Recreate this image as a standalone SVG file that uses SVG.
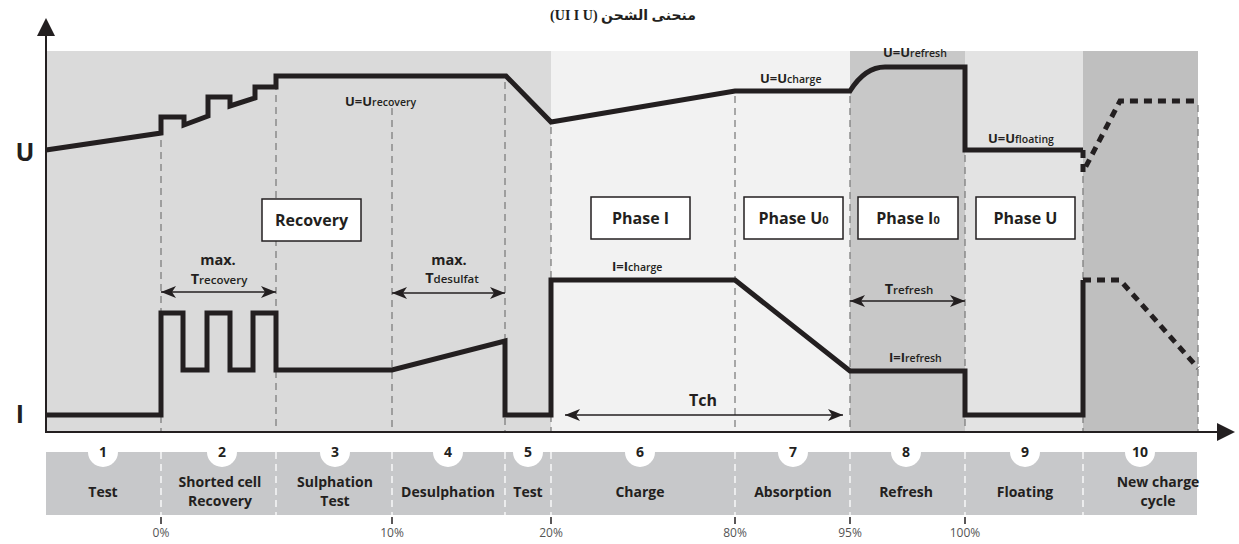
<svg xmlns="http://www.w3.org/2000/svg" width="1239" height="544" viewBox="0 0 1239 544">
<style>
text { font-family: "Open Sans", "Liberation Sans", sans-serif; fill: #231f20; }
.curve { fill: none; stroke: #231f20; stroke-width: 5; stroke-linejoin: miter; }
.dot { fill: none; stroke: #231f20; stroke-width: 5; stroke-dasharray: 8 6; }
.grid { stroke: #7f7f7f; stroke-width: 1.3; stroke-dasharray: 7 5; fill: none; }
.bargrid { stroke: #ffffff; stroke-width: 1.3; stroke-dasharray: 7 5; fill: none; }
.dim { stroke: #231f20; stroke-width: 1.4; fill: none; marker-start: url(#ah); marker-end: url(#ah); }
.box rect { fill: #ffffff; stroke: #231f20; stroke-width: 1.5; }
.box text { font-size: 16px; font-weight: 700; text-anchor: middle; }
.lab { font-size: 13px; font-weight: 700; }
.sub { font-size: 10.5px; font-weight: 600; }
.max { font-size: 14.5px; font-weight: 700; text-anchor: middle; }
.seg text { font-size: 14px; font-weight: 700; text-anchor: middle; }
.seg circle { fill: #ffffff; }
.pct { font-size: 12px; fill: #555555; text-anchor: middle; font-weight: 400; }
.tick { stroke: #231f20; stroke-width: 1.5; }
</style>
<defs>
<marker id="ah" viewBox="0 0 15 12" refX="15" refY="6" markerWidth="15" markerHeight="12" markerUnits="userSpaceOnUse" orient="auto-start-reverse">
<path d="M0,0 L15,6 L0,12 L4,6 z" fill="#231f20"/>
</marker>
</defs>

<!-- background bands -->
<g id="bands">
<rect x="46" y="51" width="505" height="381" fill="#dadada"/>
<rect x="551" y="51" width="299" height="381" fill="#f2f2f2"/>
<rect x="850" y="51" width="115" height="381" fill="#c8c8c8"/>
<rect x="965" y="51" width="118" height="381" fill="#e3e3e3"/>
<rect x="1083" y="51" width="115" height="381" fill="#bfbfbf"/>
</g>

<!-- grid dashed lines -->
<g id="grid" class="grid">
<line x1="161" y1="140" x2="161" y2="432"/>
<line x1="276" y1="83" x2="276" y2="432"/>
<line x1="392" y1="108" x2="392" y2="432"/>
<line x1="505" y1="82" x2="505" y2="432"/>
<line x1="551" y1="127" x2="551" y2="432"/>
<line x1="735" y1="96" x2="735" y2="432"/>
<line x1="850" y1="96" x2="850" y2="432"/>
<line x1="965" y1="155" x2="965" y2="432"/>
<line x1="1083" y1="176" x2="1083" y2="432"/>
<line x1="1198" y1="105" x2="1198" y2="432"/>
</g>

<!-- title -->
<text id="title" x="623" y="20" text-anchor="middle" direction="rtl" style="font-family: 'Liberation Serif', 'DejaVu Sans', serif; font-size: 14px; font-weight: 700;">منحنى الشحن (UI I U)</text>

<!-- axes labels -->
<text id="label-U" x="25" y="161" text-anchor="middle" style="font-size: 25px; font-weight: 700;">U</text>
<text id="label-I" x="20" y="423" text-anchor="middle" style="font-size: 25px; font-weight: 700;">I</text>

<!-- phase boxes -->
<g id="box-recovery" class="box"><rect x="262" y="199" width="99" height="42"/><text x="311.5" y="226">Recovery</text></g>
<g id="box-phase-i" class="box"><rect x="591" y="197" width="99" height="42"/><text x="640.5" y="224">Phase I</text></g>
<g id="box-phase-u0" class="box"><rect x="744" y="197" width="99" height="42"/><text x="793.5" y="224">Phase U<tspan style="font-size: 11px;">0</tspan></text></g>
<g id="box-phase-i0" class="box"><rect x="858" y="197" width="100" height="42"/><text x="908" y="224">Phase I<tspan style="font-size: 11px;">0</tspan></text></g>
<g id="box-phase-u" class="box"><rect x="976" y="197" width="99" height="42"/><text x="1025.5" y="224">Phase U</text></g>

<!-- value labels -->
<g id="value-labels">
<text class="lab" x="345" y="106">U=U<tspan class="sub">recovery</tspan></text>
<text class="lab" x="760" y="83">U=U<tspan class="sub">charge</tspan></text>
<text class="lab" x="883" y="56.5">U=U<tspan class="sub">refresh</tspan></text>
<text class="lab" x="988" y="142.5">U=U<tspan class="sub">floating</tspan></text>
<text class="lab" x="612" y="271">I=I<tspan class="sub">charge</tspan></text>
<text class="lab" x="889" y="361.5">I=I<tspan class="sub">refresh</tspan></text>
</g>

<g id="time-labels">
<text class="max" x="218" y="265">max.</text>
<text class="max" x="219" y="284">T<tspan class="sub" style="font-size: 11.5px;">recovery</tspan></text>
<text class="max" x="449" y="265">max.</text>
<text class="max" x="452" y="283">T<tspan class="sub" style="font-size: 11.5px;">desulfat</tspan></text>
<text class="max" x="909" y="294">T<tspan class="sub" style="font-size: 11.5px;">refresh</tspan></text>
<text class="max" x="703" y="406" style="font-size: 16px;">Tch</text>
</g>

<!-- connectors: curves, dimension arrows, axes -->
<g id="connectors">
<path class="curve" d="M46,150 L161,133 L161,117 L184,117 L184,125 L208,116 L208,97 L230,97 L230,106 L255,98 L255,87 L276,87 L276,76 L506,76 L551,122 L735,91 L850,91 Q865,67 885,67 L965,67 L965,150 L1083,150"/>
<path class="dot" d="M1083,150 L1083,172 L1120,101 L1198,101"/>
<path class="curve" d="M46,415 L161,415 L161,313 L183,313 L183,370 L207,370 L207,313 L230,313 L230,370 L253,370 L253,313 L276,313 L276,370 L392,370 L505,341 L505,415 L551,415 L551,280 L735,280 L850,371 L965,371 L965,415 L1083,415 L1083,280"/>
<path class="dot" d="M1083,280 L1120,280 L1198,368"/>
<path class="dim" d="M161,292 H276"/>
<path class="dim" d="M392,293 H505"/>
<path class="dim" d="M850,301 H965"/>
<path class="dim" d="M565,415 H843"/>
<line x1="46" y1="432" x2="46" y2="32" stroke="#231f20" stroke-width="2"/>
<polygon points="46,18 37,36 55,36" fill="#231f20"/>
<line x1="45" y1="432" x2="1220" y2="432" stroke="#231f20" stroke-width="2"/>
<polygon points="1235,432 1217,423 1217,441" fill="#231f20"/>
</g>

<!-- bottom segment bar -->
<rect id="bar" x="46" y="452" width="1151" height="63" fill="#c7c8ca"/>
<g id="bar-dividers" class="bargrid">
<line x1="161" y1="452" x2="161" y2="515"/>
<line x1="276" y1="452" x2="276" y2="515"/>
<line x1="392" y1="452" x2="392" y2="515"/>
<line x1="505" y1="452" x2="505" y2="515"/>
<line x1="551" y1="452" x2="551" y2="515"/>
<line x1="735" y1="452" x2="735" y2="515"/>
<line x1="850" y1="452" x2="850" y2="515"/>
<line x1="965" y1="452" x2="965" y2="515"/>
<line x1="1083" y1="452" x2="1083" y2="515"/>
</g>
<g id="seg-1" class="seg"><circle cx="103" cy="452" r="15"/><text x="103" y="457">1</text><text x="103" y="497">Test</text></g>
<g id="seg-2" class="seg"><circle cx="222" cy="452" r="15"/><text x="222" y="457">2</text><text x="220" y="487">Shorted cell</text><text x="220" y="506">Recovery</text></g>
<g id="seg-3" class="seg"><circle cx="335" cy="452" r="15"/><text x="335" y="457">3</text><text x="335" y="487">Sulphation</text><text x="335" y="506">Test</text></g>
<g id="seg-4" class="seg"><circle cx="448" cy="452" r="15"/><text x="448" y="457">4</text><text x="448" y="497">Desulphation</text></g>
<g id="seg-5" class="seg"><circle cx="528" cy="452" r="15"/><text x="528" y="457">5</text><text x="528" y="497">Test</text></g>
<g id="seg-6" class="seg"><circle cx="640" cy="452" r="15"/><text x="640" y="457">6</text><text x="640" y="497">Charge</text></g>
<g id="seg-7" class="seg"><circle cx="793" cy="452" r="15"/><text x="793" y="457">7</text><text x="793" y="497">Absorption</text></g>
<g id="seg-8" class="seg"><circle cx="906" cy="452" r="15"/><text x="906" y="457">8</text><text x="906" y="497">Refresh</text></g>
<g id="seg-9" class="seg"><circle cx="1025" cy="452" r="15"/><text x="1025" y="457">9</text><text x="1025" y="497">Floating</text></g>
<g id="seg-10" class="seg"><circle cx="1140" cy="452" r="15"/><text x="1140" y="457">10</text><text x="1158" y="487">New charge</text><text x="1158" y="506">cycle</text></g>

<g id="percent-scale">
<line class="tick" x1="161" y1="517" x2="161" y2="524"/>
<line class="tick" x1="392" y1="517" x2="392" y2="524"/>
<line class="tick" x1="551" y1="517" x2="551" y2="524"/>
<line class="tick" x1="735" y1="517" x2="735" y2="524"/>
<line class="tick" x1="850" y1="517" x2="850" y2="524"/>
<line class="tick" x1="965" y1="517" x2="965" y2="524"/>
<text class="pct" x="161" y="537">0%</text>
<text class="pct" x="392" y="537">10%</text>
<text class="pct" x="551" y="537">20%</text>
<text class="pct" x="735" y="537">80%</text>
<text class="pct" x="850" y="537">95%</text>
<text class="pct" x="965" y="537">100%</text>
</g>
</svg>
